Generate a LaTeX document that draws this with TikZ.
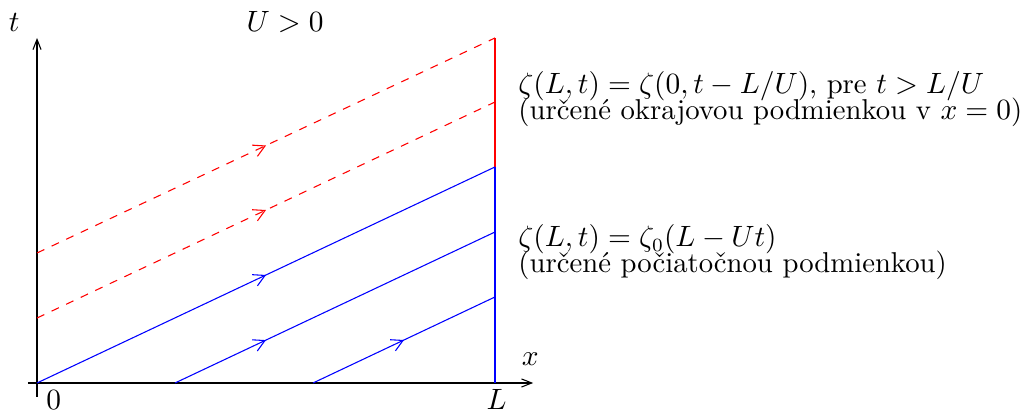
\documentclass[tikz,border=0pt]{standalone}
\usepackage{fontspec}
\usetikzlibrary{arrows.meta, decorations.markings}
\begin{document}
\begin{tikzpicture}[
  every node/.style={font=\fontsize{10.7pt}{12pt}\selectfont},
  axis/.style={-{Straight Barb[length=3.8pt, width=3pt]}, black},
  char/.style={#1, postaction={decorate}},
  mid/.style={decoration={markings, mark=at position #1 with
    {\arrow{Straight Barb[length=4.2pt, width=4.6pt]}}}},
  mid/.default=0.5,
  lab/.style={anchor=base west, inner sep=0pt},
  tick/.style={anchor=base, inner sep=0pt}]
  \useasboundingbox (-0.485,-0.38) rectangle (12.956,5.017);
  % axes
  \coordinate (O) at (0,0);
  \coordinate (xs) at (-0.12,0);
  \coordinate (xe) at (6.5,0);
  \coordinate (ys) at (0,-0.18);
  \coordinate (ye) at (0,4.52);
  \draw[axis] (xs) -- (xe);
  \draw[axis] (ys) -- (ye);
  \node[tick] (tlab) at (-0.3,4.598) {$t$};
  \node[tick] (xlab) at (6.46,0.223) {$x$};
  \node[tick] (zero) at (0.22,-0.345) {$0$};
  \node[tick] (Llab) at (6.02,-0.345) {$L$};
  \node[tick] (Ulab) at (3.25,4.598) {$U>0$};
  % boundary x = L
  \coordinate (Lb) at (6,0);
  \coordinate (Lm) at (6,2.83);
  \coordinate (Lt) at (6,4.52);
  \draw[blue] (Lb) -- (Lm);
  \draw[red] (Lm) -- (Lt);
  % characteristics from the initial condition
  \coordinate (b2) at (1.808,0);
  \coordinate (b3) at (3.616,0);
  \coordinate (e2) at (6,1.978);
  \coordinate (e3) at (6,1.127);
  \draw[char=blue, mid] (O) -- (Lm);
  \draw[char=blue, mid=0.284] (b2) -- (e2);
  \draw[char=blue, mid] (b3) -- (e3);
  % characteristics from the boundary x = 0
  \coordinate (r1) at (0,0.851);
  \coordinate (r2) at (0,1.703);
  \coordinate (f1) at (6,3.681);
  \draw[char=red, dashed, mid] (r1) -- (f1);
  \draw[char=red, dashed, mid] (r2) -- (Lt);
  % labels
  \node[lab] (top1) at (6.30,3.786) {$\zeta(L,t)=\zeta(0,t-L/U)$, pre $t>L/U$};
  \node[lab] (top2) at (6.30,3.446) {(určené okrajovou podmienkou v $x=0$)};
  \node[lab] (bot1) at (6.30,1.782) {$\zeta(L,t)=\zeta_0(L-Ut)$};
  \node[lab] (bot2) at (6.30,1.441) {(určené počiatočnou podmienkou)};
\end{tikzpicture}
\end{document}
